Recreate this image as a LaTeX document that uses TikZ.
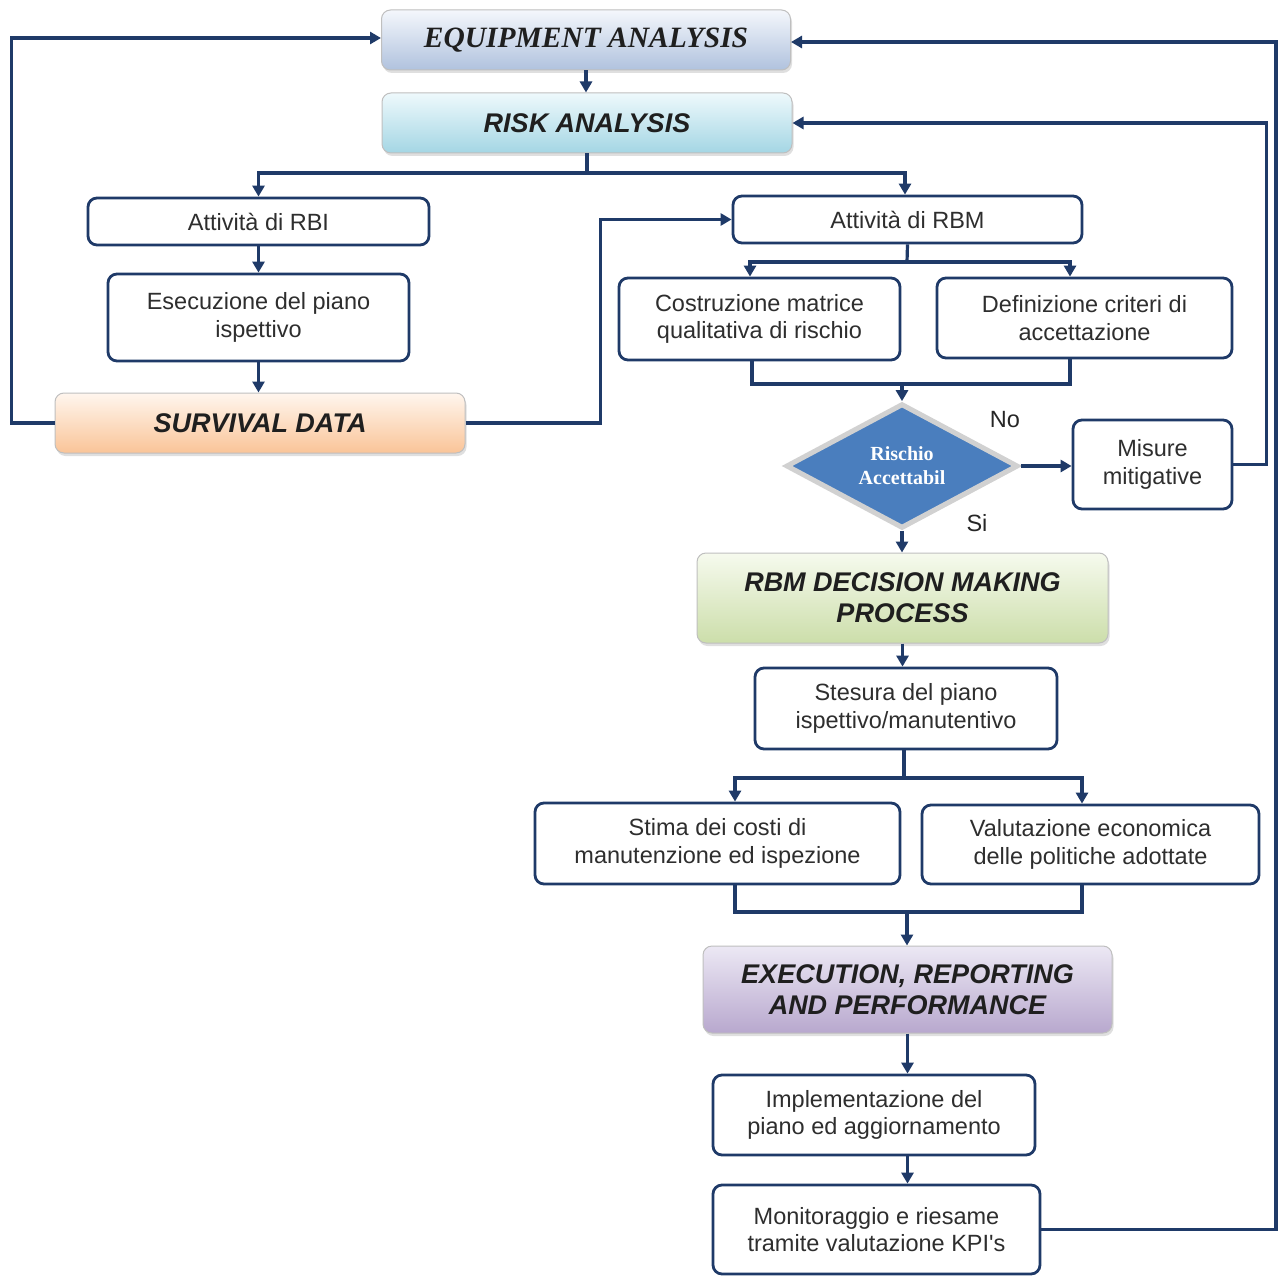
\documentclass[tikz,border=0pt]{standalone}
\usepackage{fontspec}
\setmainfont{Liberation Sans}
\newfontfamily\tnr{Liberation Serif}
\usetikzlibrary{arrows.meta,shapes.geometric,shadows,calc}
\definecolor{navy}{RGB}{31,58,104}
\definecolor{diafill}{RGB}{74,126,190}
\definecolor{eatop}{RGB}{244,247,252}
\definecolor{eabot}{RGB}{176,194,222}
\definecolor{ratop}{RGB}{238,249,252}
\definecolor{rabot}{RGB}{164,214,228}
\definecolor{sdtop}{RGB}{255,246,238}
\definecolor{sdbot}{RGB}{250,196,152}
\definecolor{dectop}{RGB}{246,250,238}
\definecolor{decbot}{RGB}{204,222,170}
\definecolor{exetop}{RGB}{236,232,244}
\definecolor{exebot}{RGB}{184,168,206}
\tikzset{
  conn/.style={draw=navy,line width=3.2pt},
  arr/.style={conn,-{Triangle[length=11pt,width=12pt]}},
  body/.style={draw=navy,line width=2.8pt,rounded corners=9pt,fill=white,
    align=center,inner sep=2pt,text=black!82,font=\fontsize{23.5}{27.5}\selectfont},
  hdr/.style={draw=black!25,line width=1pt,rounded corners=9pt,align=center,
    inner sep=2pt,text=black!88,font=\fontsize{27}{31}\selectfont\bfseries\itshape,
    drop shadow={opacity=0.25,shadow xshift=1.5pt,shadow yshift=-3pt}},
  lbl/.style={font=\fontsize{23.5}{27.5}\selectfont,text=black!85}
}
\begin{document}
\begin{tikzpicture}[x=1pt,y=-1pt]
\useasboundingbox[fill=white] (0,0) rectangle (1279,1276);

% header nodes
\node[hdr,top color=eatop,bottom color=eabot,
  minimum width=409pt,minimum height=60pt,
  font=\tnr\fontsize{29.5}{34}\selectfont\bfseries\itshape] (ea) at (586,40) {EQUIPMENT ANALYSIS};
\node[hdr,top color=ratop,bottom color=rabot,
  minimum width=410pt,minimum height=60pt] (ra) at (587,123) {RISK ANALYSIS};
\node[hdr,top color=sdtop,bottom color=sdbot,
  minimum width=410pt,minimum height=60pt] (sd) at (260,423) {SURVIVAL DATA};
\node[hdr,top color=dectop,bottom color=decbot,
  minimum width=411pt,minimum height=90pt] (dec) at (902.5,598) {RBM DECISION MAKING\\PROCESS};
\node[hdr,top color=exetop,bottom color=exebot,
  minimum width=409pt,minimum height=87pt] (exe) at (907.5,989.5) {EXECUTION, REPORTING\\AND PERFORMANCE};

% body nodes
\node[body,minimum width=341pt,minimum height=47pt] (rbi) at (258.5,221.5) {Attività di RBI};
\node[body,minimum width=301pt,minimum height=87pt] (ese) at (258.5,317.5) {Esecuzione del piano\\ispettivo};
\node[body,minimum width=349pt,minimum height=47pt] (rbm) at (907.5,219.5) {Attività di RBM};
\node[body,minimum width=281pt,minimum height=82pt] (cm) at (759.5,319) {Costruzione matrice\\qualitativa di rischio};
\node[body,minimum width=295pt,minimum height=80pt] (dc) at (1084.5,318) {Definizione criteri di\\accettazione};
\node[body,minimum width=159pt,minimum height=89pt] (mm) at (1152.5,464.5) {Misure\\mitigative};
\node[body,minimum width=302pt,minimum height=81pt] (ste) at (906,708.5) {Stesura del piano\\ispettivo/manutentivo};
\node[body,minimum width=365pt,minimum height=81pt] (sti) at (717.5,843.5) {Stima dei costi di\\manutenzione ed ispezione};
\node[body,minimum width=337pt,minimum height=79pt] (val) at (1090.5,844.5) {Valutazione economica\\delle politiche adottate};
\node[body,minimum width=322pt,minimum height=80pt] (imp) at (874,1115) {Implementazione del\\piano ed aggiornamento};
\node[body,minimum width=327pt,minimum height=89pt] (mon) at (876.5,1229.5) {Monitoraggio e riesame\\tramite valutazione KPI\textquotesingle s};

% decision diamond
\node[diamond,draw=black!18,line width=5pt,fill=diafill,minimum width=232pt,minimum height=110pt,
  inner sep=0pt,align=center,text=white,
  font=\tnr\fontsize{20}{24}\selectfont\bfseries,
  drop shadow={opacity=0.2,shadow xshift=1.5pt,shadow yshift=-2pt}] (dia) at (902,466) {Rischio\\Accettabil};

% labels
\node[lbl] (no) at (1005,420) {No};
\node[lbl] (si) at (977,523) {Si};

% junction coordinates
\coordinate (j1) at (587,173);
\coordinate (j2) at (907,262);
\coordinate (j3) at (902,384);
\coordinate (j4) at (904,778);
\coordinate (j5) at (907,912);

% connectors
\draw[arr] (ea.south) -- (ea.south |- ra.north);
\draw[conn] (ra.south) -- (j1);
\draw[arr] (j1) -| (rbi.north);
\draw[arr] (j1) -| ([xshift=-2.5pt]rbm.north);
\draw[arr] (rbi.south) -- (ese.north);
\draw[arr] (ese.south) -- (ese.south |- sd.north);
\draw[arr] (sd.west) -- ++(-43,0) |- ([yshift=2pt]ea.west);
\draw[arr] (sd.east) -- ++(135,0) |- (rbm.west);

\draw[conn] (rbm.south) -- (j2);
\draw[arr] (j2) -| ([xshift=-9.5pt]cm.north);
\draw[arr] (j2) -| ([xshift=-14.5pt]dc.north);
\draw[conn] ([xshift=-7.5pt]cm.south) |- (j3) -| ([xshift=-14.5pt]dc.south);
\draw[arr] (j3) -- (dia.north);
\draw[arr] (dia.east) -- (dia.east -| mm.west);
\draw[arr] (mm.east) -- ++(33,0) |- (ra.east);
\draw[arr] (dia.south) -- (dia.south |- dec.north);

\draw[arr] (dec.south) -- (dec.south |- ste.north);
\draw[conn] (ste.south -| j4) -- (j4);
\draw[arr] (j4) -| ([xshift=17.5pt]sti.north);
\draw[arr] (j4) -| ([xshift=-8.5pt]val.north);
\draw[conn] ([xshift=17.5pt]sti.south) |- (j5) -| ([xshift=-8.5pt]val.south);
\draw[arr] (j5) -- (exe.north -| j5);
\draw[arr] (exe.south) -- (exe.south |- imp.north);
\draw[arr] (imp.south -| exe.south) -- (mon.north -| exe.south);
\draw[arr] (mon.east) -- (1276,1229.5) |- ([yshift=-2pt]ea.east);
\end{tikzpicture}
\end{document}
